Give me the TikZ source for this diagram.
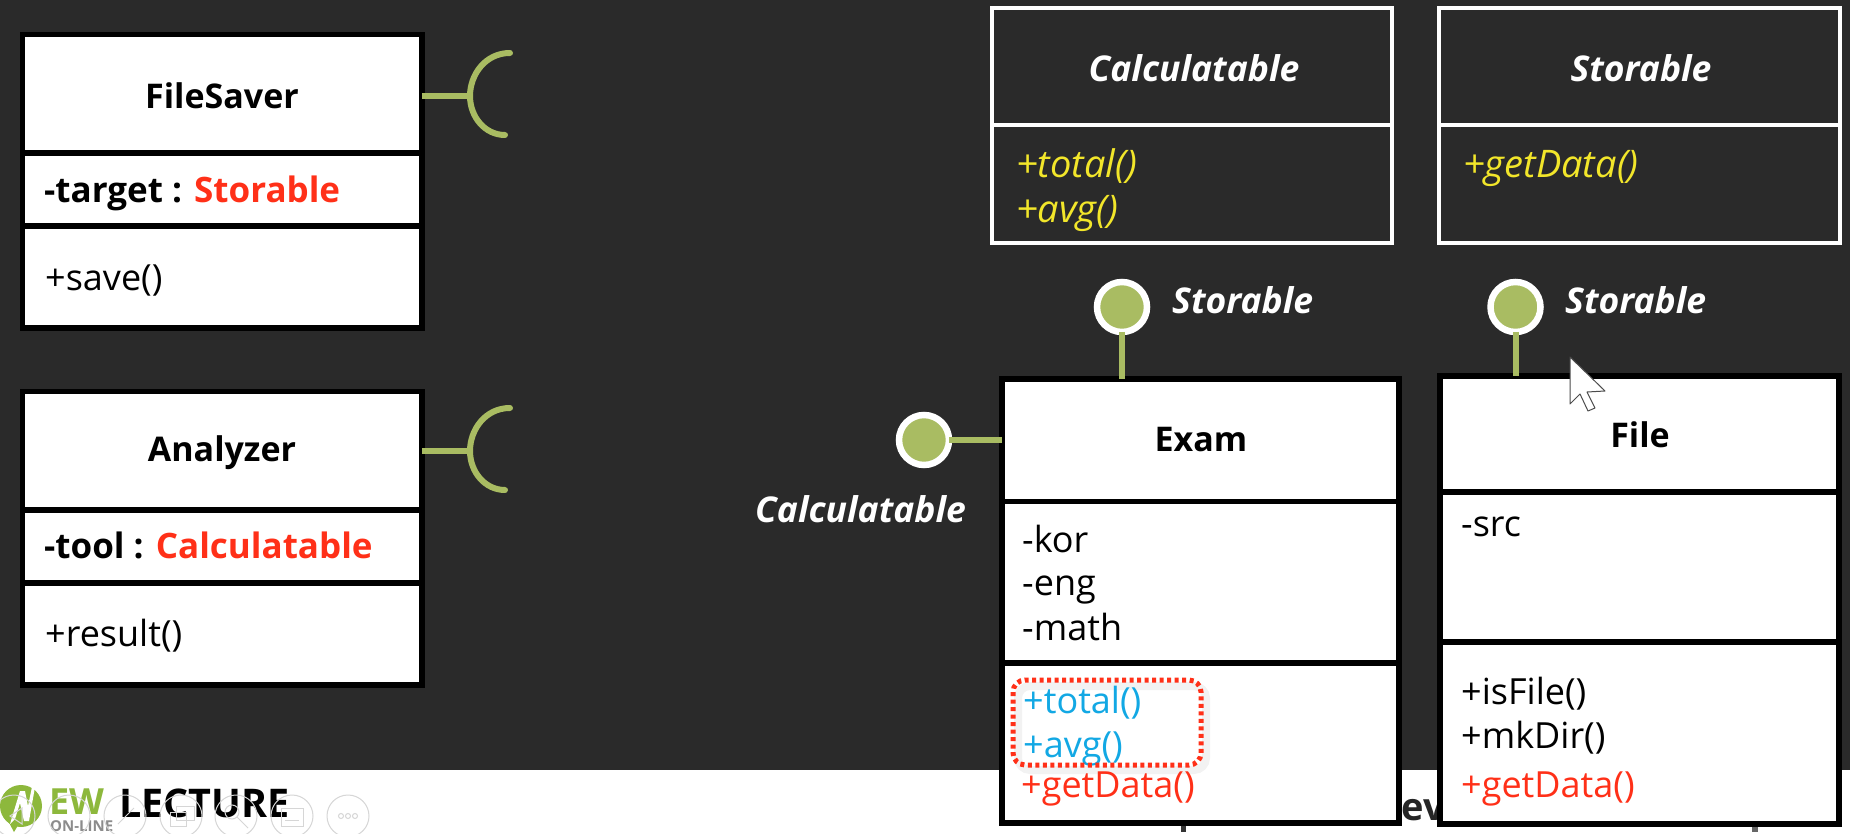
\documentclass[tikz,border=0pt]{standalone}
\usepackage{fontspec}
\setmainfont{Open Sans}
\definecolor{bgdark}{HTML}{2A2A2A}
\definecolor{lime}{HTML}{A9BC62}
\definecolor{redtxt}{HTML}{FF3018}
\definecolor{bluetxt}{HTML}{12A8E4}
\definecolor{yel}{HTML}{F2E62A}
\definecolor{logogreen}{HTML}{8DB83C}
\newcommand{\fsz}[1]{\fontsize{#1}{#1}\selectfont}
\tikzset{
  comp/.style={draw=black,fill=white,line width=5.5pt,inner sep=0pt,outer sep=0pt,rectangle},
  ifbox/.style={draw=white,fill=bgdark,line width=4.5pt,inner sep=0pt,outer sep=0pt,rectangle},
  title/.style={font=\fsz{34}\bfseries,text=black,inner sep=0pt},
  ititle/.style={font=\fsz{35.5}\bfseries\itshape,text=white,inner sep=0pt},
  member/.style={font=\fsz{36},text=black,inner sep=0pt,anchor=west,text height=27pt,text depth=9pt,yshift=-3.5pt},
  imember/.style={font=\fsz{38}\itshape,text=yel,inner sep=0pt,anchor=west,text height=28pt,text depth=10pt,yshift=-5pt},
  attr/.style={font=\fsz{35}\bfseries,text=black,inner sep=0pt,anchor=west,text height=27pt,text depth=9pt,yshift=-4pt},
  lolli/.style={circle,draw=white,fill=lime,line width=6.5pt,minimum size=50pt,inner sep=0pt,outer sep=0pt},
  stem/.style={draw=lime,line width=6pt},
  sockarc/.style={draw=lime,line width=6pt,line cap=round},
  faint/.style={draw=black!16,line width=1pt},
}
\newcommand{\cbox}[6]{% style,name,x1,y1,x2,y2
  \pgfmathsetmacro{\cx}{(#3+#5)/2}\pgfmathsetmacro{\cy}{(#4+#6)/2}
  \pgfmathsetmacro{\cw}{#5-#3}\pgfmathsetmacro{\ch}{#6-#4}
  \node[#1,minimum width=\cw pt,minimum height=\ch pt] (#2) at (\cx,\cy) {};
}
\begin{document}
\begin{tikzpicture}[x=1pt,y=-1pt]
\useasboundingbox (0,0) rectangle (1850,834);
\fill[bgdark] (0,0) rectangle (1850,770);
\fill[white] (0,770) rectangle (1850,834);
% footer
\node[inner sep=0pt,font=\fsz{38}\bfseries,text=black!85] (evtext) at (1423,810) {ev};
\fill[black!80] (1181,826) rectangle (1186,832);
\fill[black!60] (1752,826) rectangle (1758,832);
\fill[logogreen] (21,806) circle (21pt);
\fill[logogreen] (5,815) -- (14,832) -- (20,822) -- cycle;
\fill[white] (10,824) -- (20,791) -- (25,791) -- (28,806) -- (32,787) -- (35,787) -- (29,821) -- (24,821) -- (20,803) -- (15,819) -- cycle;
\node[inner sep=0pt,font=\fsz{36}\bfseries,text=logogreen,anchor=west] (ewtext) at (49,802) {EW};
\node[inner sep=0pt,font=\fsz{39.5}\bfseries,text=black,anchor=west] (lecture) at (119,803) {LECTURE};
\node[inner sep=0pt,font=\fsz{15}\bfseries,text=black!45,anchor=west] (online) at (50,826) {ON-LINE};
\foreach \px in {14,69,125,181,236,292,348}{\draw[faint] (\px,816) circle (21pt);}
\draw[faint] (10,816) -- (22,808) -- (22,824) -- cycle;
\draw[faint] (118,824) -- (134,808);
\draw[faint] (170,812) rectangle (186,826);\draw[faint] (176,806) rectangle (194,820);
\draw[faint] (232,812) circle (7pt);\draw[faint] (237,817) -- (248,828);
\draw[faint] (281,808) rectangle (303,826);\draw[faint] (285,820) -- (299,820);
\foreach \px in {341,348,355}{\draw[faint] (\px,816) circle (2.5pt);}
% FileSaver
\cbox{comp}{fs3}{22.5}{226}{422}{328}
\cbox{comp}{fs2}{22.5}{153}{422}{226}
\cbox{comp}{fs1}{22.5}{34.5}{422}{153}
\node[title] (fsT) at (222,96) {FileSaver};
\node[attr] (fsA) at (44,190) {-target : \textcolor{redtxt}{Storable}};
\node[member] (fsM) at (45,278) {+save()};
\coordinate (sockA) at (470,96);
\draw[stem] (fs1.east |- sockA) -- (sockA);
\draw[sockarc] (510,53) .. controls (485,53) and (470,75) .. (sockA) .. controls (470,117) and (485,135) .. (505,135);
% Analyzer
\cbox{comp}{an3}{22.5}{583}{422}{685}
\cbox{comp}{an2}{22.5}{510}{422}{583}
\cbox{comp}{an1}{22.5}{391.5}{422}{510}
\node[title] (anT) at (222,453) {Analyzer};
\node[attr] (anA) at (44,545) {-tool : \textcolor{redtxt}{Calculatable}};
\node[member] (anM) at (45,634) {+result()};
\coordinate (sockB) at (470,451);
\draw[stem] (an1.east |- sockB) -- (sockB);
\draw[sockarc] (510,408) .. controls (485,408) and (470,430) .. (sockB) .. controls (470,472) and (485,490) .. (505,490);
% interfaces
\cbox{ifbox}{ic2}{992}{125}{1392}{243}
\cbox{ifbox}{ic1}{992}{8}{1392}{125}
\node[ititle] (icT) at (1194,68) {Calculatable};
\node[imember] (icM1) at (1016,164) {+total()};
\node[imember] (icM2) at (1016,209) {+avg()};
\cbox{ifbox}{is2}{1439}{125}{1840}{243}
\cbox{ifbox}{is1}{1439}{8}{1840}{125}
\node[ititle] (isT) at (1641,68) {Storable};
\node[imember] (isM) at (1463,164) {+getData()};
% Exam
\cbox{comp}{ex3}{1002}{663}{1399}{823}
\cbox{comp}{ex2}{1002}{501.5}{1399}{663}
\cbox{comp}{ex1}{1002}{379}{1399}{501.5}
\node[title] (exT) at (1201,440) {Exam};
\node[member] (exK) at (1022,540) {-kor};
\node[member] (exE) at (1022,583) {-eng};
\node[member] (exM) at (1022,628) {-math};
\draw[black,opacity=.05,line width=8pt,rounded corners=12pt] (1018,686) rectangle (1206,770);
\node[member,text=bluetxt] (exF1) at (1023,701) {+total()};
\node[member,text=bluetxt] (exF2) at (1023,745) {+avg()};
\node[member,text=redtxt] (exF3) at (1021,785) {+getData()};
\draw[redtxt,line width=5pt,dash pattern=on 4pt off 3.5pt,rounded corners=12pt] (1013,680) rectangle (1201,765);
% File
\cbox{comp}{fi3}{1440}{642}{1839}{824}
\cbox{comp}{fi2}{1440}{492}{1839}{642}
\cbox{comp}{fi1}{1440}{376}{1839}{492}
\node[title] (fiT) at (1640,435) {File};
\node[member] (fiS) at (1461,524) {-src};
\node[member] (fiI) at (1461,692) {+isFile()};
\node[member] (fiD) at (1461,736) {+mkDir()};
\node[member,text=redtxt] (fiG) at (1461,785) {+getData()};
% lollipops
\node[lolli] (lcT) at (1122,307) {};
\node[lolli] (lcF) at (1515.5,307) {};
\node[lolli] (lcL) at (924,440) {};
\draw[stem] (lcT.south) -- (lcT.south |- ex1.north);
\draw[stem] (lcF.south) -- (lcF.south |- fi1.north);
\draw[stem] (lcL.east) -- (lcL.east -| ex1.west);
\node[ititle,anchor=west] (lab1) at (1172,300) {Storable};
\node[ititle,anchor=west] (lab2) at (1565,300) {Storable};
\node[ititle,anchor=west] (lab3) at (755,509) {Calculatable};
% cursor
\draw[fill=white,draw=black!70,line width=1pt,line join=round] (1570,357) -- (1570,404) -- (1580,394) -- (1588,411) -- (1595,408) -- (1587,392) -- (1605,391) -- cycle;
\end{tikzpicture}
\end{document}
